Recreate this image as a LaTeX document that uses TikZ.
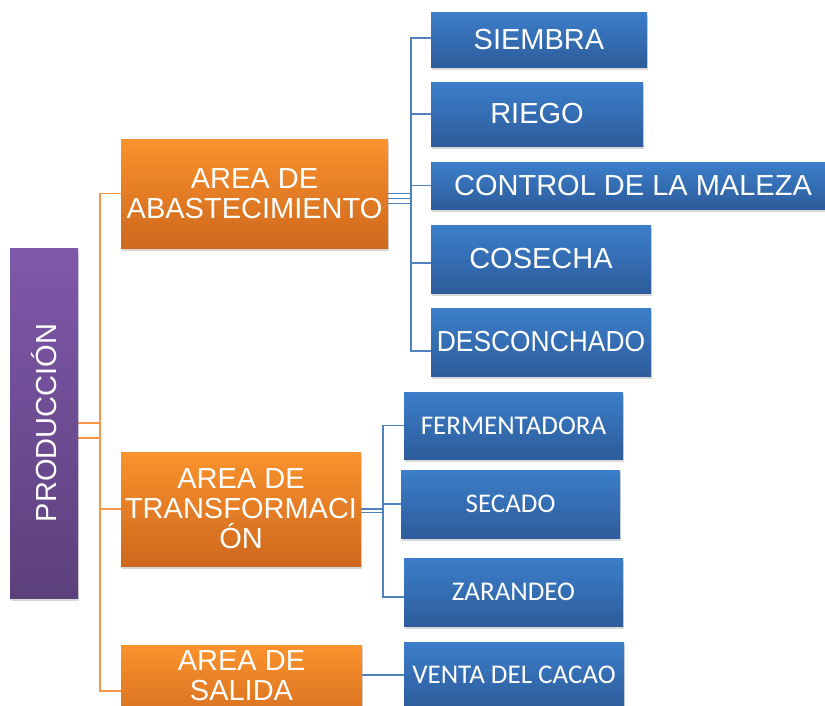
\documentclass[tikz,border=0pt]{standalone}
\usepackage{fontspec}
\setmainfont{Liberation Sans}
\newfontfamily\calib{Carlito}
\usetikzlibrary{shadows,backgrounds}
\definecolor{otop}{RGB}{250,146,44}
\definecolor{obot}{RGB}{206,104,30}
\definecolor{btop}{RGB}{60,126,202}
\definecolor{bbot}{RGB}{45,92,155}
\definecolor{ptop}{RGB}{128,88,170}
\definecolor{pbot}{RGB}{92,64,124}
\definecolor{oline}{RGB}{247,150,70}
\definecolor{bline}{RGB}{79,129,189}
\tikzset{
  box/.style={rectangle, inner sep=0pt, align=center, text=white,
    font=\fontsize{29}{30}\selectfont,
    drop shadow={shadow xshift=1pt, shadow yshift=-3pt, opacity=0.3}},
  obox/.style={box, top color=otop, bottom color=obot},
  bbox/.style={box, top color=btop, bottom color=bbot},
  cbox/.style={bbox, font=\calib\fontsize{27}{28}\selectfont},
  pbox/.style={box, top color=ptop, bottom color=pbot},
  ocon/.style={draw=oline, line width=1.6pt},
  bcon/.style={draw=bline, line width=1.6pt},
}
\begin{document}
\begin{tikzpicture}[x=1pt,y=-1pt]
\useasboundingbox (0,0) rectangle (825,705);
% root
\node[pbox, minimum width=68pt, minimum height=350pt] (prod) at (44,423) {};
\node[text=white, font=\fontsize{29}{30}\selectfont, rotate=90] (prodt) at (prod.center) {PRODUCCIÓN};
% level 1
\node[obox, minimum width=267pt, minimum height=109pt] (abast) at (254.5,193.5) {AREA DE\\ABASTECIMIENTO};
\node[obox, minimum width=240pt, minimum height=114pt] (transf) at (241,509) {AREA DE\\TRANSFORMACI\\ÓN};
\node[obox, minimum width=241pt, minimum height=92pt] (salida) at (241.5,691) {};
\node[text=white, align=center, font=\fontsize{29}{30}\selectfont] (salidat) at (241.5,676) {AREA DE\\SALIDA};
% level 2 (abastecimiento)
\node[bbox, minimum width=216pt, minimum height=55pt] (siembra) at (539,39.5) {SIEMBRA};
\node[bbox, minimum width=212pt, minimum height=64pt] (riego) at (537,114) {RIEGO};
\node[bbox, minimum width=404pt, minimum height=47pt] (control) at (633,185.5) {CONTROL DE LA MALEZA};
\node[bbox, minimum width=220pt, minimum height=68pt] (cosecha) at (541,259) {COSECHA};
\node[bbox, minimum width=220pt, minimum height=68pt] (descon) at (541,342) {\scalebox{0.91}[1]{DESCONCHADO}};
% level 2 (transformacion)
\node[cbox, minimum width=219pt, minimum height=67pt] (ferm) at (513.5,425.5) {FERMENTADORA};
\node[cbox, minimum width=219pt, minimum height=68pt] (secado) at (510.5,504) {SECADO};
\node[cbox, minimum width=219pt, minimum height=68pt] (zaran) at (513.5,592) {ZARANDEO};
% level 2 (salida)
\node[cbox, minimum width=220pt, minimum height=66pt] (venta) at (514,675) {VENTA DEL CACAO};
\coordinate (ov) at (100,423);
\coordinate (bv) at (411,193.5);
\coordinate (tv) at (383,509);
\begin{scope}[on background layer]
\fill[white] (0,0) rectangle (825,705);
\draw[ocon] (prod.east) -- (ov);
\draw[ocon] ([yshift=-15pt]prod.east) -- ([yshift=-15pt]ov);
\draw[ocon] (ov) |- (abast.west);
\draw[ocon] (ov) |- (transf.west);
\draw[ocon] (ov) |- (salida.west);
\draw[bcon] (abast.east) -- (bv);
\draw[bcon] ([yshift=-5pt]abast.east) -- ([yshift=-5pt]bv);
\draw[bcon] ([yshift=-10pt]abast.east) -- ([yshift=-10pt]bv);
\draw[bcon] (bv) |- ([yshift=1.5pt]siembra.west);
\draw[bcon] (bv) |- (riego.west);
\draw[bcon] (bv) |- (control.west);
\draw[bcon] (bv) |- ([yshift=-4pt]cosecha.west);
\draw[bcon] (bv) |- ([yshift=-9pt]descon.west);
\draw[bcon] (transf.east) -- (tv);
\draw[bcon] ([yshift=-3.5pt]transf.east) -- ([yshift=-3.5pt]tv);
\draw[bcon] (tv) |- (ferm.west);
\draw[bcon] (tv) |- (secado.west);
\draw[bcon] (tv) |- ([yshift=-5pt]zaran.west);
\draw[bcon] (venta.west -| salida.east) -- (venta.west);
\end{scope}
\end{tikzpicture}
\end{document}
